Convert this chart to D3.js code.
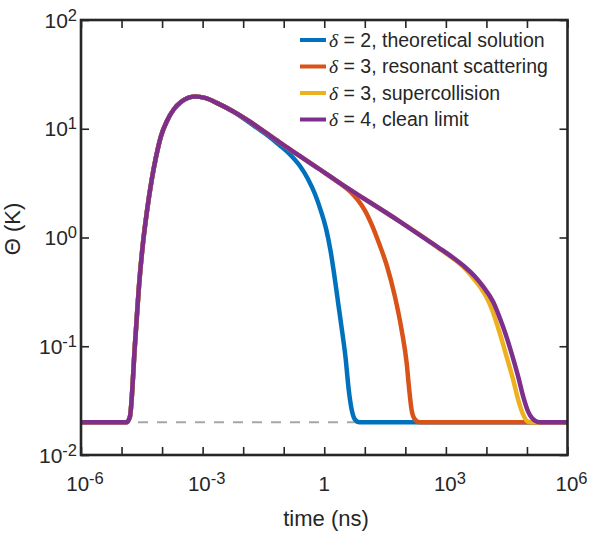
<!DOCTYPE html>
<html>
<head>
<meta charset="utf-8">
<script src="https://cdn.jsdelivr.net/npm/d3@7"></script>
<style>
  html, body { margin: 0; padding: 0; background: #fff; }
  svg { display: block; }
  text { font-family: "Liberation Sans", Arial, Helvetica, sans-serif; fill: #262626; }
</style>
</head>
<body>
<svg id="chart" width="591" height="536"></svg>
<script>
// ---------- data ----------
const xTickValues = [1e-6, 1e-5, 1e-4, 1e-3, 1e-2, 1e-1, 1, 1e1, 1e2, 1e3, 1e4, 1e5, 1e6];
const xLabelValues = [1e-6, 1e-3, 1, 1e3, 1e6];
const yTickValues = [1e-2, 1e-1, 1, 1e1, 1e2];
const baselineTheta = 0.02;

// shared heating part (all four series coincide here)
const riseT     = [1e-6, 1.34e-5, 1.61e-5, 2.15e-5, 2.77e-5, 3.38e-5, 4.17e-5, 5.54e-5, 7.08e-5, 9.40e-5, 1.32e-4, 1.97e-4, 2.92e-4, 4.35e-4, 6.47e-4, 1.14e-3, 2.22e-3, 5.70e-3];
const riseTheta = [0.02, 0.02, 0.0225, 0.106, 0.407, 0.890, 1.67, 3.38, 5.49, 8.57, 11.8, 15.2, 17.6, 19.2, 19.8, 19.2, 17.3, 14.4];

// cooling parts
const blueT     = [0.0147, 0.0345, 0.0807, 0.143, 0.252, 0.396, 0.590, 0.830, 1.10, 1.42, 1.84, 2.24, 2.73, 3.34, 4.02, 4.77, 5.71, 7.4, 1e6];
const blueTheta = [11.3, 9.04, 7.02, 5.80, 4.54, 3.45, 2.51, 1.75, 1.22, 0.767, 0.407, 0.239, 0.141, 0.0796, 0.0396, 0.0259, 0.0212, 0.02, 0.02];

const orangeT     = [0.0147, 0.0807, 0.252, 0.783, 2.44, 4.31, 6.78, 10.1, 15.0, 22.3, 35.2, 55.4, 81.1, 108, 125, 143, 173, 223, 1e6];
const orangeTheta = [11.6, 7.45, 5.61, 4.22, 3.14, 2.66, 2.21, 1.77, 1.30, 0.890, 0.547, 0.286, 0.141, 0.0697, 0.0396, 0.0259, 0.0212, 0.02, 0.02];

const yellowT     = [0.0147, 0.0807, 0.252, 0.783, 2.44, 73.6, 405, 713, 1670, 2950, 4920, 7310, 10300, 13700, 21500, 31500, 45800, 60800, 78200, 107000, 140000, 1e6];
const yellowTheta = [11.6, 7.45, 5.61, 4.22, 3.17, 1.40, 0.913, 0.783, 0.624, 0.519, 0.415, 0.343, 0.278, 0.218, 0.131, 0.0802, 0.0490, 0.0321, 0.0242, 0.0202, 0.02, 0.02];

const purpleT     = [0.0147, 0.0807, 0.252, 0.783, 2.44, 73.6, 405, 713, 1670, 2950, 5200, 8340, 14700, 19200, 25900, 41800, 60800, 80900, 107000, 157000, 208000, 1e6];
const purpleTheta = [11.6, 7.45, 5.61, 4.22, 3.17, 1.40, 0.913, 0.792, 0.634, 0.536, 0.438, 0.353, 0.255, 0.202, 0.150, 0.0861, 0.0525, 0.0344, 0.0250, 0.0207, 0.02, 0.02];

const seriesDelta  = ["2", "3", "3", "4"];
const seriesNames  = ["theoretical solution", "resonant scattering", "supercollision", "clean limit"];
const seriesColors = ["#0072BD", "#D95319", "#EDB120", "#7E2F8E"];
const seriesT      = [blueT, orangeT, yellowT, purpleT];
const seriesTheta  = [blueTheta, orangeTheta, yellowTheta, purpleTheta];

// ---------- layout ----------
const L = 81, R = 567.5, T = 20, B = 455;
const svg = d3.select("#chart");
const x = d3.scaleLog().domain([1e-6, 1e6]).range([L, R]);
const y = d3.scaleLog().domain([1e-2, 1e2]).range([B, T]);
const axisColor = "#262626";
const tickLen = 8;

// dashed baseline
svg.append("line")
  .attr("x1", x(1e-6)).attr("x2", x(1e6))
  .attr("y1", y(baselineTheta)).attr("y2", y(baselineTheta))
  .attr("stroke", "#a6a6a6").attr("stroke-width", 2)
  .attr("stroke-dasharray", "10,9");

// curves
const line = d3.line().x(d => x(d[0])).y(d => y(d[1])).curve(d3.curveMonotoneX);
seriesT.forEach((ts, i) => {
  const pts = riseT.map((t, k) => [t, riseTheta[k]])
    .concat(ts.map((t, k) => [t, seriesTheta[i][k]]));
  svg.append("path")
    .datum(pts)
    .attr("d", line)
    .attr("fill", "none")
    .attr("stroke", seriesColors[i])
    .attr("stroke-width", 4.5)
    .attr("stroke-linejoin", "round");
});

// tick label with superscript exponent
function supLabel(sel, plainOne) {
  sel.each(function(d) {
    const t = d3.select(this);
    t.text(null);
    const e = Math.round(Math.log10(d));
    if (e === 0 && plainOne) { t.text("1"); return; }
    t.append("tspan").text("10");
    t.append("tspan").attr("dy", -7).attr("font-size", 16.5).text(String(e));
  });
}

// axes (MATLAB style: inward ticks, box)
const xAxisB = d3.axisBottom(x).tickValues(xTickValues).tickSizeInner(-tickLen).tickSizeOuter(0).tickFormat(() => "");
const gxb = svg.append("g").attr("transform", `translate(0,${B})`).call(xAxisB);
const xAxisT = d3.axisTop(x).tickValues(xTickValues).tickSizeInner(-tickLen).tickSizeOuter(0).tickFormat(() => "");
const gxt = svg.append("g").attr("transform", `translate(0,${T})`).call(xAxisT);
const yAxisL = d3.axisLeft(y).tickValues(yTickValues).tickSizeInner(-tickLen).tickSizeOuter(0).tickFormat(() => "");
const gyl = svg.append("g").attr("transform", `translate(${L},0)`).call(yAxisL);
const yAxisR = d3.axisRight(y).tickValues(yTickValues).tickSizeInner(-tickLen).tickSizeOuter(0).tickFormat(() => "");
const gyr = svg.append("g").attr("transform", `translate(${R},0)`).call(yAxisR);
[gxb, gxt, gyl, gyr].forEach(g => {
  g.select(".domain").remove();
  g.selectAll(".tick line").attr("stroke", axisColor).attr("stroke-width", 1.6);
  g.selectAll(".tick text").remove();
});

// box
svg.append("rect")
  .attr("x", L).attr("y", T).attr("width", R - L).attr("height", B - T)
  .attr("fill", "none").attr("stroke", axisColor).attr("stroke-width", 2.6);

// tick labels
svg.append("g").selectAll("text").data(xLabelValues).join("text")
  .attr("x", d => x(d) + (d === 1 ? 0 : 4))
  .attr("y", 490.5)
  .attr("text-anchor", "middle")
  .attr("font-size", 20.5)
  .call(supLabel, true);

svg.append("g").selectAll("text").data(yTickValues).join("text")
  .attr("x", 77)
  .attr("y", d => y(d) + 7.5)
  .attr("text-anchor", "end")
  .attr("font-size", 21)
  .call(supLabel, false);

// axis titles
svg.append("text")
  .attr("x", 326).attr("y", 525.5)
  .attr("text-anchor", "middle").attr("font-size", 22)
  .text("time (ns)");

svg.append("text")
  .attr("transform", "translate(20,229) rotate(-90)")
  .attr("text-anchor", "middle").attr("font-size", 22)
  .text("Θ (K)");

// legend
const legY0 = 40, legDy = 26.5;
const leg = svg.append("g");
seriesNames.forEach((name, i) => {
  const ly = legY0 + i * legDy;
  leg.append("line")
    .attr("x1", 300).attr("x2", 326).attr("y1", ly).attr("y2", ly)
    .attr("stroke", seriesColors[i]).attr("stroke-width", 4);
  const t = leg.append("text").attr("x", 329).attr("y", ly + 6.7).attr("font-size", 19.5);
  t.append("tspan").attr("font-family", "'Liberation Serif', 'Times New Roman', serif").attr("font-style", "italic").text("δ");
  t.append("tspan").text(` = ${seriesDelta[i]}, ${name}`);
});
</script>
</body>
</html>
